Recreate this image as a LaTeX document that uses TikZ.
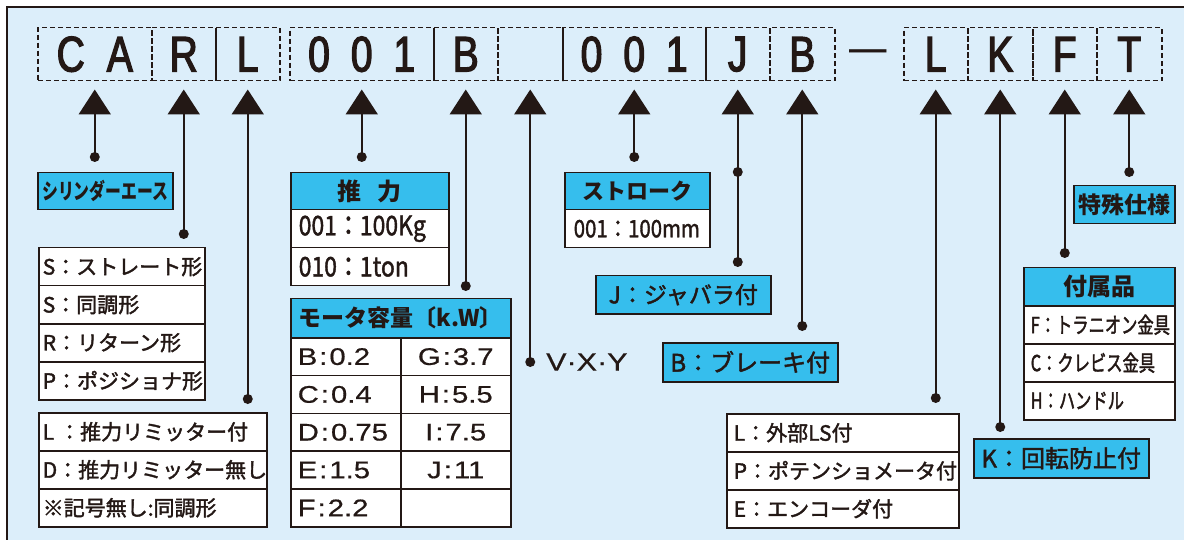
\documentclass[tikz,border=0pt]{standalone}
\usepackage{fontspec}
\usetikzlibrary{arrows.meta,calc}
\setmainfont{Noto Sans CJK JP}
\newfontfamily\jp{Noto Sans CJK JP}
\newfontfamily\jpm[FakeBold=1.8]{Noto Sans CJK JP}
\newfontfamily\jpc[FakeStretch=0.72]{Noto Sans CJK JP}
\newfontfamily\jpcm[FakeStretch=0.74,FakeBold=1.8]{Noto Sans CJK JP}
\newfontfamily\jpn[FakeStretch=0.85,FakeBold=1.5]{Noto Sans CJK JP}
\newfontfamily\latw[FakeStretch=1.22,FakeBold=0.6]{Liberation Sans}
\newfontfamily\codefont[FakeStretch=0.78,FakeBold=2.5]{Liberation Sans}
\newfontfamily\dashfont[FakeStretch=0.78]{Liberation Sans}
\newcommand\fs[1]{\fontsize{#1}{#1}\selectfont}
\newcommand\cg{\hspace{21pt}}
\newcommand\mc{\hspace{2pt}:\hspace{2pt}}
\definecolor{ink}{HTML}{231815}
\definecolor{bgblue}{HTML}{DCEEFA}
\definecolor{cyanb}{HTML}{36BEED}
\begin{document}
\begin{tikzpicture}[x=1pt,y=-1pt,
  codebox/.style={draw=ink, line width=1.5pt, dash pattern=on 5pt off 3pt, minimum height=53pt, inner sep=0pt, anchor=north west, font=\codefont\fs{50}, text=ink},
  conn/.style={draw=ink, line width=2pt, -{Triangle[width=32pt,length=25pt]}, shorten >=8pt},
  dot/.style={circle, fill=ink, inner sep=0pt, minimum size=10pt},
  hdr/.style={draw=ink, line width=1.5pt, fill=cyanb, anchor=north west, inner sep=0pt, text=ink},
  cell/.style={draw=ink, line width=1.5pt, fill=white, anchor=north west, inner ysep=0pt, align=left, text=ink},
  ccell/.style={draw=ink, line width=1.5pt, fill=white, anchor=north west, inner ysep=0pt, align=center, text=ink}
]
\useasboundingbox (0,0) rectangle (1184,540);
\clip (0,0) rectangle (1184,540);
\fill[white] (0,0) rectangle (1184,540);
\draw[ink, line width=2pt, fill=bgblue] (7,7) rectangle (1200,560);

% code row
\node[codebox, minimum width=114pt] (cCA) at (37,27) {C\hspace{22pt}A};
\node[codebox, minimum width=64pt] (cR) at (151,27) {R};
\node[codebox, minimum width=64pt] (cL) at (215,27) {L};
\node[codebox, minimum width=144pt] (cN1) at (289,27) {0\cg0\cg1};
\node[codebox, minimum width=64pt] (cB1) at (433,27) {B};
\node[codebox, minimum width=65pt] (cE) at (497,27) {};
\node[codebox, minimum width=143pt] (cN2) at (562,27) {0\cg0\cg1};
\node[codebox, minimum width=64pt] (cJ) at (705,27) {J};
\node[codebox, minimum width=65pt] (cB2) at (769,27) {B};
\node[anchor=base, font=\dashfont\fs{48}, text=ink, inner sep=0pt] (dash) at (868.5,64) {—};
\node[codebox, minimum width=64pt] (cL2) at (903,27) {L};
\node[codebox, minimum width=65pt] (cK) at (967,27) {K};
\node[codebox, minimum width=64pt] (cF) at (1032,27) {F};
\node[codebox, minimum width=65pt] (cT) at (1096,27) {T};

% dots
\node[dot] (dCA) at (cCA.south |- 0,157) {};
\node[dot] (dR) at (cR.south |- 0,234) {};
\node[dot] (dL) at (cL.south |- 0,399) {};
\node[dot] (dN1) at (cN1.south |- 0,157) {};
\node[dot] (dB1) at (cB1.south |- 0,286) {};
\node[dot] (dE) at (cE.south |- 0,362) {};
\node[dot] (dN2) at (cN2.south |- 0,157) {};
\node[dot] (dJa) at (cJ.south |- 0,172) {};
\node[dot] (dJ) at (cJ.south |- 0,262) {};
\node[dot] (dB2) at (cB2.south |- 0,326) {};
\node[dot] (dL2) at (cL2.south |- 0,398) {};
\node[dot] (dK) at (cK.south |- 0,427) {};
\node[dot] (dF) at (cF.south |- 0,253) {};
\node[dot] (dT) at (cT.south |- 0,172) {};

\draw[conn] (dCA.center) -- (cCA.south);
\draw[conn] (dR.center) -- (cR.south);
\draw[conn] (dL.center) -- (cL.south);
\draw[conn] (dN1.center) -- (cN1.south);
\draw[conn] (dB1.center) -- (cB1.south);
\draw[conn] (dE.center) -- (cE.south);
\draw[conn] (dN2.center) -- (cN2.south);
\draw[conn] (dJ.center) -- (cJ.south);
\draw[conn] (dB2.center) -- (cB2.south);
\draw[conn] (dL2.center) -- (cL2.south);
\draw[conn] (dK.center) -- (cK.south);
\draw[conn] (dF.center) -- (cF.south);
\draw[conn] (dT.center) -- (cT.south);

% シリンダーエース
\node[hdr, minimum width=135pt, minimum height=37pt, font=\jpc\bfseries\fs{22}] (tCA) at (37,172) {シリンダーエース};

% S table
\node[cell, inner xsep=4pt, text width=158pt, minimum height=38pt, font=\jpm\fs{21}] (s1) at (38,247) {S：ストレート形};
\node[cell, inner xsep=4pt, text width=158pt, minimum height=38pt, font=\jpm\fs{21}] (s2) at (38,285) {S：同調形};
\node[cell, inner xsep=4pt, text width=158pt, minimum height=38pt, font=\jpm\fs{21}] (s3) at (38,323) {R：リターン形};
\node[cell, inner xsep=4pt, text width=158pt, minimum height=38pt, font=\jpm\fs{21}] (s4) at (38,361) {P：ポジショナ形};

% L table
\node[cell, inner xsep=4pt, text width=220pt, minimum height=38pt, font=\jpm\fs{21}] (l1) at (38,412) {L\hspace{5pt}：推力リミッター付};
\node[cell, inner xsep=4pt, text width=220pt, minimum height=38pt, font=\jpm\fs{21}] (l2) at (38,450) {D：推力リミッター無し};
\node[cell, inner xsep=4pt, text width=220pt, minimum height=38pt, font=\jpm\fs{21}] (l3) at (38,488) {※記号無し:同調形};

% 推力
\node[hdr, minimum width=158pt, minimum height=37pt, font=\jp\bfseries\fs{24}] (tF) at (290,172) {推\hspace{16pt}力};
\node[cell, inner xsep=8pt, text width=142pt, minimum height=38pt, font=\jpn\fs{27}] (f1) at (290,209) {001：100Kg};
\node[cell, inner xsep=8pt, text width=142pt, minimum height=38pt, font=\jpn\fs{27}] (f2) at (290,247) {010：1ton};

% motor
\node[hdr, minimum width=220pt, minimum height=39pt, font=\jp\bfseries\fs{23}] (tM) at (290,298) {モータ容量〔k.W〕};
\node[cell, inner xsep=7pt, text width=96pt, minimum height=37.8pt, font=\latw\fs{24}] (m1) at (290,337) {B\mc0.2};
\node[cell, inner xsep=7pt, text width=96pt, minimum height=37.8pt, font=\latw\fs{24}] (m2) at (290,374.8) {C\mc0.4};
\node[cell, inner xsep=7pt, text width=96pt, minimum height=37.8pt, font=\latw\fs{24}] (m3) at (290,412.6) {D\mc0.75};
\node[cell, inner xsep=7pt, text width=96pt, minimum height=37.8pt, font=\latw\fs{24}] (m4) at (290,450.4) {E\mc1.5};
\node[cell, inner xsep=7pt, text width=96pt, minimum height=37.8pt, font=\latw\fs{24}] (m5) at (290,488.2) {F\mc2.2};
\node[ccell, inner xsep=7pt, text width=96pt, minimum height=37.8pt, font=\latw\fs{24}] (n1) at (400,337) {G\mc3.7};
\node[ccell, inner xsep=7pt, text width=96pt, minimum height=37.8pt, font=\latw\fs{24}] (n2) at (400,374.8) {H\mc5.5};
\node[ccell, inner xsep=7pt, text width=96pt, minimum height=37.8pt, font=\latw\fs{24}] (n3) at (400,412.6) {I\mc7.5};
\node[ccell, inner xsep=7pt, text width=96pt, minimum height=37.8pt, font=\latw\fs{24}] (n4) at (400,450.4) {J\mc11};
\node[ccell, inner xsep=7pt, text width=96pt, minimum height=37.8pt, font=\latw\fs{24}] (n5) at (400,488.2) {};

% V X Y
\node[anchor=west, font=\latw\fs{25}, text=ink, inner sep=0pt] (vxy) at (546,362) {V·X·Y};

% ストローク
\node[hdr, minimum width=145pt, minimum height=37pt, font=\jp\bfseries\fs{22}] (tS) at (564,172) {ストローク};
\node[cell, inner xsep=9pt, text width=127pt, minimum height=38pt, font=\jpn\fs{24}] (st1) at (564,209) {001：100mm};

% J, B boxes
\node[hdr, minimum width=175pt, minimum height=38pt, font=\jpm\fs{23}] (tJ) at (595,275) {J：ジャバラ付};
\node[hdr, minimum width=175pt, minimum height=39pt, font=\jpm\fs{24}] (tB) at (662,342) {B：ブレーキ付};

% L2 table
\node[cell, inner xsep=7pt, text width=218pt, minimum height=38pt, font=\jpm\fs{21}] (e1) at (726,413) {L：外部LS付};
\node[cell, inner xsep=7pt, text width=218pt, minimum height=38pt, font=\jpm\fs{21}] (e2) at (726,451) {P：ポテンショメータ付};
\node[cell, inner xsep=7pt, text width=218pt, minimum height=38pt, font=\jpm\fs{21}] (e3) at (726,489) {E：エンコーダ付};

% 特殊仕様
\node[hdr, minimum width=101pt, minimum height=38pt, font=\jp\bfseries\fs{23}] (tT) at (1073,185) {特殊仕様};

% 付属品
\node[hdr, minimum width=151pt, minimum height=38pt, font=\jp\bfseries\fs{24}] (tA) at (1023,267) {付属品};
\node[cell, inner xsep=7pt, text width=137pt, minimum height=38pt, font=\jpcm\fs{22}] (a1) at (1023,305) {F：トラニオン金具};
\node[cell, inner xsep=7pt, text width=137pt, minimum height=38pt, font=\jpcm\fs{22}] (a2) at (1023,343) {C：クレビス金具};
\node[cell, inner xsep=7pt, text width=137pt, minimum height=38pt, font=\jpcm\fs{22}] (a3) at (1023,381) {H：ハンドル};

% K box
\node[hdr, minimum width=175pt, minimum height=39pt, font=\jpm\fs{24}] (tK) at (973,438) {K：回転防止付};
\end{tikzpicture}
\end{document}
